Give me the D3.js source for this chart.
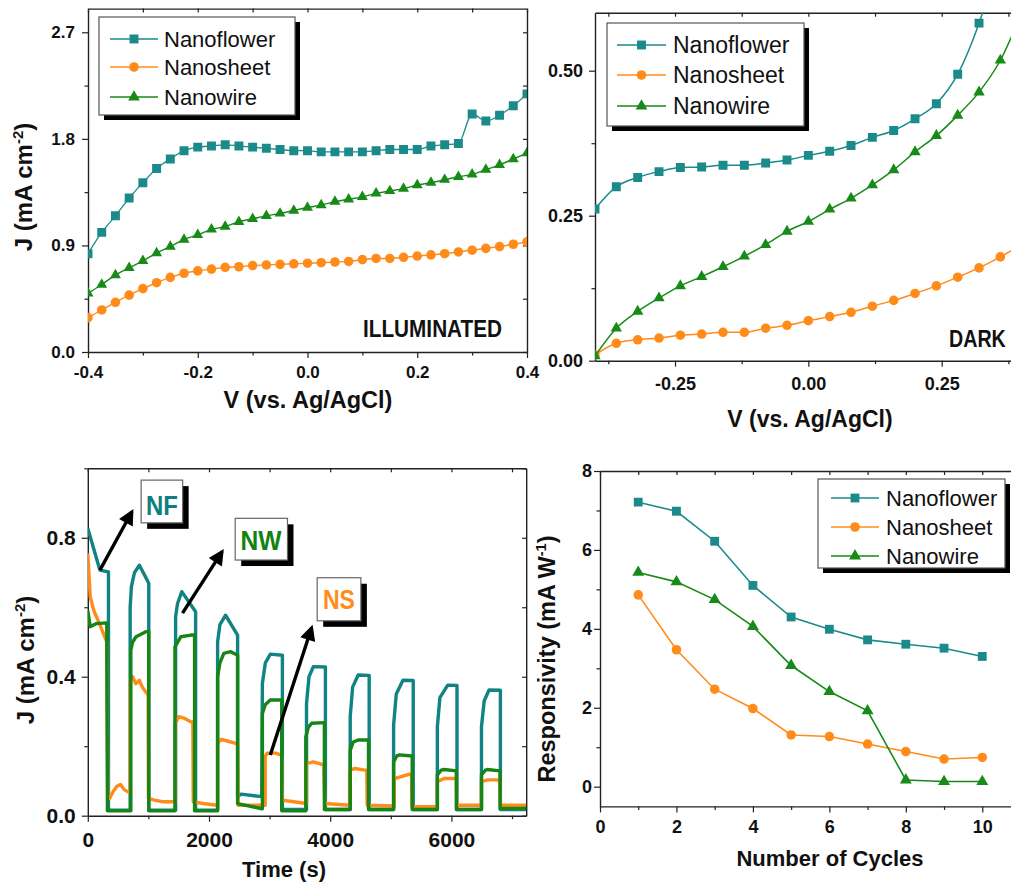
<!DOCTYPE html>
<html><head><meta charset="utf-8">
<script src="https://cdn.jsdelivr.net/npm/d3@7"></script>
<style>body{margin:0;background:#fff;overflow:hidden} svg{display:block}</style>
</head><body>
<svg id="c" width="1011" height="883"></svg>
<script>
// ---------------- DATA ----------------
const seriesNames = ["Nanoflower", "Nanosheet", "Nanowire"];
const colNF = "#1b8a8a", colNS = "#ff8c1a", colNW = "#178a17";

// Illuminated J-V
const illumV = [-0.4,-0.375,-0.35,-0.325,-0.3,-0.275,-0.25,-0.225,-0.2,-0.175,-0.15,-0.125,-0.1,-0.075,-0.05,-0.025,0,0.025,0.05,0.075,0.1,0.125,0.15,0.175,0.2,0.225,0.25,0.275,0.3,0.325,0.35,0.375,0.4];
const illumNF = [0.83,1.01,1.15,1.30,1.43,1.55,1.63,1.70,1.73,1.74,1.75,1.74,1.73,1.72,1.71,1.70,1.70,1.69,1.69,1.69,1.69,1.70,1.71,1.71,1.71,1.74,1.75,1.76,2.01,1.95,2.00,2.08,2.18];
const illumNS = [0.29,0.355,0.42,0.48,0.535,0.585,0.63,0.665,0.685,0.70,0.715,0.72,0.73,0.735,0.74,0.745,0.75,0.754,0.76,0.765,0.78,0.79,0.79,0.80,0.81,0.82,0.83,0.845,0.86,0.875,0.89,0.91,0.93];
const illumNW = [0.495,0.57,0.65,0.71,0.77,0.835,0.89,0.95,0.99,1.035,1.06,1.10,1.125,1.15,1.17,1.195,1.22,1.24,1.27,1.29,1.31,1.34,1.36,1.38,1.41,1.43,1.455,1.48,1.50,1.54,1.58,1.63,1.68];
const illumXTicks = [-0.4,-0.2,0,0.2,0.4], illumXLabels = ["-0.4","-0.2","0.0","0.2","0.4"], illumXMinor = [-0.3,-0.1,0.1,0.3];
const illumYTicks = [0,0.9,1.8,2.7], illumYLabels = ["0.0","0.9","1.8","2.7"], illumYMinor = [0.45,1.35,2.25];

// Dark J-V
const darkV  = [-0.40,-0.36,-0.32,-0.28,-0.24,-0.20,-0.16,-0.12,-0.08,-0.04,0.00,0.04,0.08,0.12,0.16,0.20,0.24,0.28,0.32,0.36,0.40];
const darkNF = [0.2615,0.300,0.316,0.326,0.333,0.334,0.337,0.337,0.341,0.346,0.354,0.361,0.371,0.385,0.397,0.417,0.443,0.494,0.582,0.70,null];
const darkNS = [0.010,0.030,0.036,0.039,0.044,0.046,0.049,0.049,0.056,0.061,0.069,0.076,0.0835,0.094,0.104,0.116,0.129,0.144,0.160,0.179,0.200];
const darkNW = [0.008,0.056,0.085,0.108,0.129,0.145,0.162,0.180,0.200,0.223,0.240,0.261,0.280,0.303,0.329,0.360,0.388,0.423,0.463,0.518,0.600];
const darkXTicks = [-0.25,0,0.25], darkXLabels = ["-0.25","0.00","0.25"], darkXMinor = [-0.375,-0.125,0.125,0.375];
const darkYTicks = [0,0.25,0.5], darkYLabels = ["0.00","0.25","0.50"], darkYMinor = [0.125,0.375];

// Transient photocurrent (time s, J mA cm-2)
const timeNF = [[0,0.827],[199,0.707],[341,0.702],[341,0.016],[699,0.016],
 [699,0.60],[720,0.66],[770,0.70],[852,0.721],[1006,0.669],[1006,0.016],[1449,0.016],
 [1449,0.573],[1480,0.61],[1551,0.645],[1779,0.587],[1779,0.016],[2142,0.016],
 [2142,0.50],[2180,0.55],[2273,0.577],[2472,0.520],[2472,0.055],[2529,0.062],[2870,0.055],
 [2881,0.381],[2930,0.44],[3012,0.465],[3211,0.462],[3211,0.018],[3609,0.018],
 [3609,0.323],[3650,0.40],[3722,0.429],[3921,0.428],[3921,0.018],[4330,0.018],
 [4330,0.285],[4370,0.37],[4461,0.405],[4643,0.404],[4643,0.018],[5046,0.018],
 [5046,0.261],[5090,0.35],[5200,0.390],[5370,0.389],[5370,0.018],[5768,0.018],
 [5768,0.256],[5810,0.34],[5939,0.376],[6092,0.375],[6092,0.018],[6496,0.018],
 [6496,0.256],[6540,0.33],[6621,0.362],[6808,0.361],[6808,0.018],[7234,0.018]];
const timeNS = [[0,0.755],[40,0.63],[100,0.59],[199,0.55],[280,0.515],[313,0.50],[330,0.06],[360,0.05],[420,0.07],[480,0.085],[540,0.09],[600,0.075],[650,0.07],[699,0.065],
 [699,0.39],[740,0.40],[790,0.38],[850,0.39],[900,0.37],[983,0.35],[995,0.35],[1000,0.05],[1100,0.045],[1250,0.04],[1438,0.04],
 [1438,0.265],[1500,0.285],[1600,0.28],[1705,0.27],[1733,0.27],[1740,0.04],[1900,0.035],[2142,0.03],
 [2142,0.208],[2200,0.22],[2300,0.215],[2444,0.208],[2472,0.205],[2480,0.03],[2700,0.03],[2927,0.03],
 [2927,0.17],[2960,0.18],[3097,0.18],[3182,0.175],[3200,0.17],[3211,0.045],[3400,0.04],[3609,0.035],
 [3609,0.15],[3722,0.155],[3893,0.146],[3910,0.035],[4319,0.03],
 [4319,0.13],[4400,0.136],[4575,0.131],[4603,0.13],[4610,0.03],[5058,0.028],
 [5058,0.107],[5257,0.117],[5314,0.12],[5342,0.118],[5350,0.026],[5768,0.026],
 [5768,0.098],[5882,0.107],[6052,0.107],[6081,0.105],[6090,0.03],[6496,0.03],
 [6496,0.098],[6600,0.103],[6763,0.103],[6800,0.10],[6810,0.03],[7234,0.03]];
const timeNW = [[0,0.59],[40,0.544],[142,0.553],[313,0.555],[324,0.014],[710,0.014],
 [710,0.477],[740,0.50],[796,0.515],[966,0.530],[1006,0.53],[1006,0.014],[1438,0.014],
 [1438,0.486],[1534,0.515],[1705,0.52],[1762,0.52],[1762,0.014],[2142,0.014],
 [2142,0.400],[2180,0.44],[2245,0.467],[2358,0.472],[2472,0.462],[2472,0.035],[2870,0.02],[2881,0.02],
 [2881,0.294],[2930,0.32],[3012,0.333],[3200,0.333],[3200,0.014],[3597,0.014],
 [3597,0.227],[3640,0.255],[3694,0.266],[3904,0.268],[3904,0.018],[4330,0.018],
 [4330,0.189],[4380,0.212],[4461,0.218],[4632,0.218],[4632,0.018],[5046,0.018],
 [5046,0.155],[5100,0.172],[5143,0.175],[5353,0.172],[5353,0.018],[5768,0.018],
 [5768,0.117],[5830,0.131],[5882,0.133],[6081,0.129],[6081,0.018],[6496,0.018],
 [6496,0.117],[6560,0.131],[6592,0.133],[6803,0.129],[6803,0.021],[7234,0.021]];
const timeXTicks = [0,2000,4000,6000], timeXLabels = ["0","2000","4000","6000"], timeXMinor = [1000,3000,5000,7000];
const timeYTicks = [0,0.4,0.8], timeYLabels = ["0.0","0.4","0.8"], timeYMinor = [0.2,0.6,1.0];
// annotations (in data units of the transient panel)
const annLabels = ["NF","NW","NS"];
const annBoxT = [[880,1565],[2432,3295],[3785,4506]];
const annBoxJ = [[0.966,0.843],[0.856,0.736],[0.685,0.561]];
const annTextPos = [[1224,0.866],[2858,0.765],[4144,0.595]];
const annArrowFrom = [[200,0.707],[1563,0.583],[3011,0.175]];
const annArrowTo = [[728,0.875],[2216,0.760],[3693,0.541]];

// Responsivity vs cycles
const cycles = [1,2,3,4,5,6,7,8,9,10];
const respNF = [7.21,6.98,6.22,5.10,4.30,3.99,3.72,3.61,3.51,3.30];
const respNS = [4.86,3.47,2.47,1.98,1.31,1.27,1.08,0.89,0.70,0.74];
const respNW = [5.43,5.19,4.74,4.06,3.07,2.41,1.92,0.17,0.13,0.13];
const respXTicks = [0,2,4,6,8,10], respXLabels = ["0","2","4","6","8","10"], respXMinor = [1,3,5,7,9];
const respYTicks = [0,2,4,6,8], respYLabels = ["0","2","4","6","8"], respYMinor = [1,3,5,7];

// ---------------- DRAWING ----------------
const svg = d3.select("#c");
const FONT = "'Liberation Sans', Arial, sans-serif";

svg.append("defs").append("marker")
  .attr("id","ah").attr("viewBox","0 0 10 10").attr("refX",8).attr("refY",5)
  .attr("markerWidth",5).attr("markerHeight",4.6).attr("orient","auto")
  .append("path").attr("d","M0,0 L10,5 L0,10 z").attr("fill","#000");

function panel(cfg){
  const g = svg.append("g");
  const x = d3.scaleLinear().domain(cfg.xd).range([cfg.l, cfg.r]);
  const y = d3.scaleLinear().domain(cfg.yd).range([cfg.b, cfg.t]);
  const id = "clip" + cfg.name;
  svg.select("defs").append("clipPath").attr("id", id)
    .append("rect").attr("x", cfg.l).attr("y", cfg.t).attr("width", cfg.r-cfg.l).attr("height", cfg.b-cfg.t);

  const styleAxis = (sel, fs) => {
    sel.selectAll("path.domain").attr("stroke","#222").attr("stroke-width",1.4);
    sel.selectAll(".tick line").attr("stroke","#222").attr("stroke-width",1.2);
    sel.selectAll("text").attr("font-family",FONT).attr("font-weight","bold")
      .attr("font-size",fs).attr("fill","#111");
  };
  g.append("g").attr("transform",`translate(0,${cfg.b})`)
    .call(d3.axisBottom(x).tickValues(cfg.xMinor).tickSize(3.5).tickFormat("").tickSizeOuter(0))
    .call(s=>{s.select(".domain").remove(); styleAxis(s,cfg.fs);});
  g.append("g").attr("transform",`translate(${cfg.l},0)`)
    .call(d3.axisLeft(y).tickValues(cfg.yMinor).tickSize(3.5).tickFormat("").tickSizeOuter(0))
    .call(s=>{s.select(".domain").remove(); styleAxis(s,cfg.fs);});
  g.append("g").attr("transform",`translate(0,${cfg.t})`)
    .call(d3.axisTop(x).tickValues(cfg.xTicks.concat(cfg.xMinor)).tickSize(-4).tickFormat("").tickSizeOuter(0))
    .call(s=>styleAxis(s,cfg.fs));
  g.append("g").attr("transform",`translate(${cfg.r},0)`)
    .call(d3.axisRight(y).tickValues(cfg.yTicks.concat(cfg.yMinor)).tickSize(-4).tickFormat("").tickSizeOuter(0))
    .call(s=>styleAxis(s,cfg.fs));
  g.append("g").attr("transform",`translate(0,${cfg.b})`)
    .call(d3.axisBottom(x).tickValues(cfg.xTicks).tickSize(6).tickPadding(cfg.xPad).tickSizeOuter(0)
      .tickFormat((d,i)=>cfg.xLabels[i]))
    .call(s=>styleAxis(s,cfg.fs));
  g.append("g").attr("transform",`translate(${cfg.l},0)`)
    .call(d3.axisLeft(y).tickValues(cfg.yTicks).tickSize(6).tickPadding(cfg.yPad).tickSizeOuter(0)
      .tickFormat((d,i)=>cfg.yLabels[i]))
    .call(s=>styleAxis(s,cfg.fs));
  const plot = g.append("g").attr("clip-path",`url(#${id})`);
  return {g, x, y, plot};
}

function symbolPath(kind, size){
  const t = kind === "sq" ? d3.symbolSquare : kind === "ci" ? d3.symbolCircle : d3.symbolTriangle;
  return d3.symbol().type(t).size(size)();
}

function drawSeries(p, xs, ys, color, kind, size, sw, curve){
  const pts = xs.map((v,i)=>[v, ys[i]]).filter(d=>d[1]!==null);
  const line = d3.line().x(d=>p.x(d[0])).y(d=>p.y(d[1])).curve(curve);
  p.plot.append("path").datum(pts).attr("d",line).attr("fill","none")
    .attr("stroke",color).attr("stroke-width",sw);
  p.plot.selectAll(null).data(pts).enter().append("path")
    .attr("d",symbolPath(kind,size))
    .attr("transform",d=>`translate(${p.x(d[0])},${p.y(d[1])})`)
    .attr("fill",color);
}

function legend(x0,y0,w,h,rows,lineX0,lineX1,textX,fs,sizes,sw){
  const g = svg.append("g");
  g.append("rect").attr("x",x0+5).attr("y",y0+5).attr("width",w).attr("height",h).attr("fill","#000");
  g.append("rect").attr("x",x0).attr("y",y0).attr("width",w).attr("height",h)
    .attr("fill","#fff").attr("stroke","#555").attr("stroke-width",1.2);
  const cols = [colNF, colNS, colNW], kinds = ["sq","ci","tr"];
  seriesNames.forEach((name,i)=>{
    const yy = rows[i];
    g.append("line").attr("x1",lineX0).attr("x2",lineX1).attr("y1",yy).attr("y2",yy)
      .attr("stroke",cols[i]).attr("stroke-width",sw);
    g.append("path").attr("d",symbolPath(kinds[i],sizes[i]))
      .attr("transform",`translate(${(lineX0+lineX1)/2},${yy})`).attr("fill",cols[i]);
    g.append("text").attr("x",textX).attr("y",yy).attr("dy","0.36em")
      .attr("font-family",FONT).attr("font-size",fs).attr("fill","#111").text(name);
  });
}

function yTitle(x, y, fs, main, sup){
  const t = svg.append("text").attr("transform",`translate(${x},${y}) rotate(-90)`)
    .attr("text-anchor","middle").attr("font-family",FONT).attr("font-weight","bold")
    .attr("font-size",fs).attr("fill","#111");
  t.append("tspan").text(main);
  t.append("tspan").attr("dy",-fs*0.38).attr("font-size",fs*0.62).text(sup);
  t.append("tspan").attr("dy",fs*0.38).text(")");
}
function xTitle(x, y, fs, txt){
  svg.append("text").attr("x",x).attr("y",y).attr("text-anchor","middle")
    .attr("font-family",FONT).attr("font-weight","bold").attr("font-size",fs).attr("fill","#111").text(txt);
}

// ---- Panel 1: illuminated ----
const p1 = panel({name:"a", l:88, r:527, t:8.6, b:352, xd:[-0.4,0.4], yd:[0,2.9],
  xTicks:illumXTicks, xLabels:illumXLabels, xMinor:illumXMinor,
  yTicks:illumYTicks, yLabels:illumYLabels, yMinor:illumYMinor, fs:17, xPad:8, yPad:7});
drawSeries(p1, illumV, illumNS, colNS, "ci", 72, 1.4, d3.curveMonotoneX);
drawSeries(p1, illumV, illumNW, colNW, "tr", 52, 1.4, d3.curveMonotoneX);
drawSeries(p1, illumV, illumNF, colNF, "sq", 80, 1.3, d3.curveMonotoneX);
legend(99,17,196,98,[39,67,97],110,158,164,22,[80,72,60],1.6);
svg.append("text").attr("transform","translate(363,337) scale(0.865,1)").attr("font-family",FONT).attr("font-weight","bold")
  .attr("font-size",24).attr("fill","#111").text("ILLUMINATED");
xTitle(308, 408, 23.5, "V (vs. Ag/AgCl)");
yTitle(32, 187, 24, "J (mA cm", "-2");

// ---- Panel 2: dark ----
const p2 = panel({name:"b", l:595, r:1021.7, t:12.7, b:360.7, xd:[-0.4,0.4], yd:[0,0.6],
  xTicks:darkXTicks, xLabels:darkXLabels, xMinor:darkXMinor,
  yTicks:darkYTicks, yLabels:darkYLabels, yMinor:darkYMinor, fs:18, xPad:10.5, yPad:6});
drawSeries(p2, darkV, darkNS, colNS, "ci", 72, 1.5, d3.curveMonotoneX);
drawSeries(p2, darkV, darkNW, colNW, "tr", 56, 1.5, d3.curveMonotoneX);
drawSeries(p2, darkV, darkNF, colNF, "sq", 80, 1.5, d3.curveMonotoneX);
legend(607,23,197,103,[45,75,106],617,666,673,23,[80,72,60],1.6);
svg.append("text").attr("transform","translate(949,347) scale(0.82,1)").attr("font-family",FONT).attr("font-weight","bold")
  .attr("font-size",24).attr("fill","#111").text("DARK");
xTitle(810, 427, 23, "V (vs. Ag/AgCl)");

// ---- Panel 3: transient ----
const p3 = panel({name:"c", l:87.8, r:526.2, t:468.3, b:815.7, xd:[0,7234], yd:[0,1.0],
  xTicks:timeXTicks, xLabels:timeXLabels, xMinor:timeXMinor,
  yTicks:timeYTicks, yLabels:timeYLabels, yMinor:timeYMinor, fs:21, xPad:10.4, yPad:6});
const tline = d3.line().x(d=>p3.x(d[0])).y(d=>p3.y(d[1]));
[[timeNF,"#128383"],[timeNS,colNS],[timeNW,"#168516"]].forEach(([data,c])=>{
  p3.plot.append("path").datum(data).attr("d",tline).attr("fill","none")
    .attr("stroke",c).attr("stroke-width",3.4).attr("stroke-linejoin","round");
});
const annCols = ["#0f7f7f","#128212","#ff8c1a"];
annLabels.forEach((lab,i)=>{
  const bx0 = p3.x(annBoxT[i][0]), bx1 = p3.x(annBoxT[i][1]);
  const by0 = p3.y(annBoxJ[i][0]), by1 = p3.y(annBoxJ[i][1]);
  svg.append("rect").attr("x",bx0+6).attr("y",by0+6).attr("width",bx1-bx0).attr("height",by1-by0).attr("fill","#000");
  svg.append("rect").attr("x",bx0).attr("y",by0).attr("width",bx1-bx0).attr("height",by1-by0)
    .attr("fill","#fff").attr("stroke","#666").attr("stroke-width",1.2);
  svg.append("text").attr("x",p3.x(annTextPos[i][0])).attr("y",p3.y(annTextPos[i][1]))
    .attr("text-anchor","middle").attr("font-family",FONT).attr("font-weight","bold")
    .attr("font-size",28).attr("textLength", lab==="NW"?41:32).attr("lengthAdjust","spacingAndGlyphs")
    .attr("fill",annCols[i]).text(lab);
  svg.append("line").attr("x1",p3.x(annArrowFrom[i][0])).attr("y1",p3.y(annArrowFrom[i][1]))
    .attr("x2",p3.x(annArrowTo[i][0])).attr("y2",p3.y(annArrowTo[i][1]))
    .attr("stroke","#000").attr("stroke-width",3.4).attr("marker-end","url(#ah)");
});
xTitle(284, 877, 22, "Time (s)");
yTitle(34, 660, 24, "J (mA cm", "-2");

// ---- Panel 4: responsivity ----
const p4 = panel({name:"d", l:600, r:1020.5, t:471, b:806.4, xd:[0,11], yd:[-0.5,8],
  xTicks:respXTicks, xLabels:respXLabels, xMinor:respXMinor,
  yTicks:respYTicks, yLabels:respYLabels, yMinor:respYMinor, fs:18, xPad:8.2, yPad:2});
drawSeries(p4, cycles, respNS, colNS, "ci", 72, 1.6, d3.curveLinear);
drawSeries(p4, cycles, respNW, colNW, "tr", 62, 1.6, d3.curveLinear);
drawSeries(p4, cycles, respNF, colNF, "sq", 78, 1.6, d3.curveLinear);
legend(818,479,187,89,[498,527,556],831,879,886,22,[78,72,62],1.6);
xTitle(830, 866, 22, "Number of Cycles");
yTitle(555, 659, 23.5, "Responsivity (mA W", "-1");
</script>
</body></html>
